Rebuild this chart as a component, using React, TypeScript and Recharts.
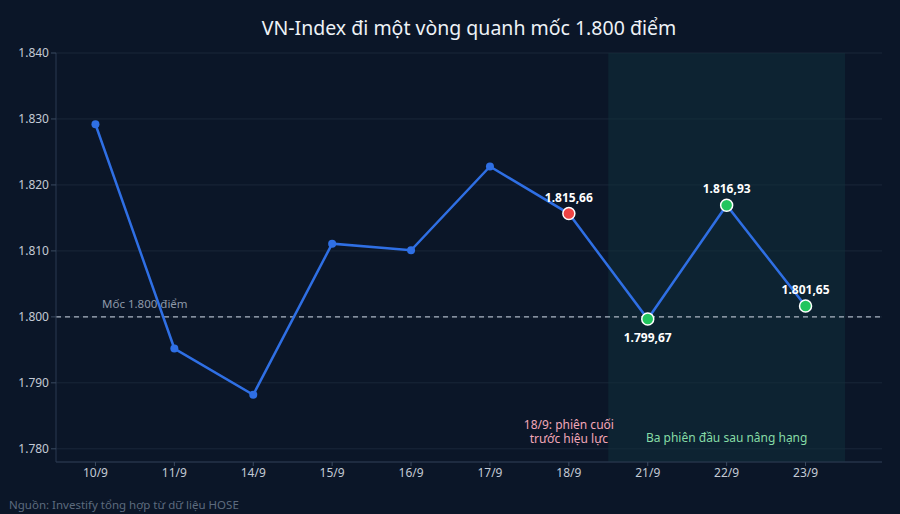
import React from "react";
import {
  LineChart,
  Line,
  XAxis,
  YAxis,
  CartesianGrid,
  ReferenceLine,
  ReferenceArea,
  ReferenceDot,
  LabelList,
} from "recharts";

const dates = ["10/9", "11/9", "14/9", "15/9", "16/9", "17/9", "18/9", "21/9", "22/9", "23/9"];
const closes = [1829.2, 1795.2, 1788.2, 1811.1, 1810.1, 1822.8, 1815.66, 1799.67, 1816.93, 1801.65];
const labelledIdx = [6, 7, 8, 9];
const labelBelowIdx = [7];
const redIdx = [6];
const greenIdx = [7, 8, 9];
const yTicks = [1780, 1790, 1800, 1810, 1820, 1830, 1840];

const data = dates.map((d, i) => ({ date: d, value: closes[i] }));

const FONT = "'Noto Sans', 'Open Sans', sans-serif";
const BG = "#0b1628";

const fmtTick = (v: number) => `${Math.floor(v / 1000)}.${String(Math.round(v % 1000)).padStart(3, "0")}`;
const fmtVal = (v: number) => {
  const s = v.toFixed(2);
  const [ip, dp] = s.split(".");
  const n = parseInt(ip, 10);
  return `${Math.floor(n / 1000)}.${String(n % 1000).padStart(3, "0")},${dp}`;
};

const renderDot = (props: any) => {
  const { cx, cy, index } = props;
  if (redIdx.includes(index)) {
    return <circle key={index} cx={cx} cy={cy} r={6} fill="#ef4444" stroke="#ffffff" strokeWidth={1.5} />;
  }
  if (greenIdx.includes(index)) {
    return <circle key={index} cx={cx} cy={cy} r={6} fill="#22c55e" stroke="#ffffff" strokeWidth={1.5} />;
  }
  return <circle key={index} cx={cx} cy={cy} r={4} fill="#2f6fe4" />;
};

const renderValueLabel = (props: any) => {
  const { x, y, index, value } = props;
  if (!labelledIdx.includes(index)) return null;
  const below = labelBelowIdx.includes(index);
  return (
    <text
      x={x}
      y={below ? y + 23 : y - 12}
      textAnchor="middle"
      fill="#ffffff"
      fontSize={12}
      fontWeight={700}
      fontFamily={FONT}
    >
      {fmtVal(value)}
    </text>
  );
};

export default function App() {
  return (
    <div style={{ position: "absolute", left: 0, top: 0, width: 900, height: 514, background: BG, fontFamily: FONT }}>
      <div
        style={{
          position: "absolute",
          left: 0,
          top: 14,
          width: 938,
          textAlign: "center",
          color: "#eef2f7",
          fontSize: 19.5,
          fontFamily: FONT,
        }}
      >
        VN-Index đi một vòng quanh mốc 1.800 điểm
      </div>
      <div
        style={{
          position: "absolute",
          left: 9,
          top: 497,
          color: "#5d6b7e",
          fontSize: 11.5,
          fontFamily: FONT,
        }}
      >
        Nguồn: Investify tổng hợp từ dữ liệu HOSE
      </div>
      <div style={{ position: "absolute", left: 0, top: 0 }}>
        <LineChart width={900} height={514} data={data} margin={{ top: 53, right: 18, left: 0, bottom: 22 }}>
          <CartesianGrid vertical={false} stroke="#1a2739" strokeWidth={1} />
          <ReferenceArea x1="21/9" x2="23/9" y1={1778} y2={1840} fill="#10303a" fillOpacity={0.55} stroke="none" ifOverflow="visible" />
          <XAxis
            dataKey="date"
            scale="band"
            padding={{ left: 0, right: 37 }}
            stroke="#2a3950"
            tickLine={{ stroke: "#3a4a60" }}
            tickSize={4}
            tickMargin={2}
            height={30}
            tick={{ fill: "#c3cad5", fontSize: 12, fontFamily: FONT }}
          />
          <YAxis
            domain={[1778, 1840]}
            ticks={yTicks}
            width={56}
            stroke="#2a3950"
            tickLine={{ stroke: "#3a4a60" }}
            tickSize={5}
            tickMargin={2}
            tickFormatter={fmtTick}
            allowDataOverflow
            tick={{ fill: "#c3cad5", fontSize: 12, fontFamily: FONT }}
          />
          <ReferenceLine
            y={1800}
            stroke="#aab4c2"
            strokeDasharray="5 4"
            strokeWidth={1.2}
            label={(p: any) => {
              const vb = p.viewBox || {};
              return (
                <text x={vb.x + 46} y={vb.y - 9} fill="#8e99a8" fontSize={11.5} fontFamily={FONT}>
                  Mốc 1.800 điểm
                </text>
              );
            }}
          />
          <ReferenceDot
            x="18/9"
            y={1783.6}
            r={0}
            fill="none"
            stroke="none"
            label={(p: any) => {
              const vb = p.viewBox || {};
              const cx = vb.x + (vb.width || 0) / 2;
              const cy = vb.y + (vb.height || 0) / 2;
              return (
                <text x={cx} y={cy + 4} textAnchor="middle" fill="#f2a7b8" fontSize={12} fontFamily={FONT}>
                  18/9: phiên cuối
                </text>
              );
            }}
          />
          <ReferenceDot
            x="18/9"
            y={1781.5}
            r={0}
            fill="none"
            stroke="none"
            label={(p: any) => {
              const vb = p.viewBox || {};
              const cx = vb.x + (vb.width || 0) / 2;
              const cy = vb.y + (vb.height || 0) / 2;
              return (
                <text x={cx} y={cy + 4} textAnchor="middle" fill="#f2a7b8" fontSize={12} fontFamily={FONT}>
                  trước hiệu lực
                </text>
              );
            }}
          />
          <ReferenceDot
            x="22/9"
            y={1781.6}
            r={0}
            fill="none"
            stroke="none"
            label={(p: any) => {
              const vb = p.viewBox || {};
              const cx = vb.x + (vb.width || 0) / 2;
              const cy = vb.y + (vb.height || 0) / 2;
              return (
                <text x={cx} y={cy + 4} textAnchor="middle" fill="#86dca6" fontSize={12} fontFamily={FONT}>
                  Ba phiên đầu sau nâng hạng
                </text>
              );
            }}
          />
          <Line
            type="linear"
            dataKey="value"
            stroke="#2f6fe4"
            strokeWidth={2.5}
            dot={renderDot}
            activeDot={false}
            isAnimationActive={false}
          >
            <LabelList dataKey="value" content={renderValueLabel} />
          </Line>
        </LineChart>
      </div>
    </div>
  );
}
